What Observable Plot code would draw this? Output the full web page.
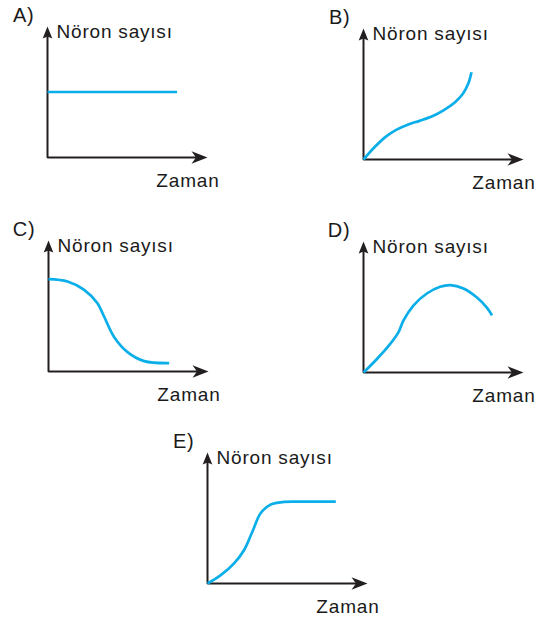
<!DOCTYPE html>
<html>
<head>
<meta charset="utf-8">
<script src="https://cdn.jsdelivr.net/npm/d3@7"></script>
<script src="https://cdn.jsdelivr.net/npm/@observablehq/plot@0.6"></script>
<style>
  html, body { margin: 0; padding: 0; background: #fff; overflow: hidden; }
  #chart { position: relative; width: 537px; height: 620px; background: #fff; }
  .panel { position: absolute; }
  .panel svg text { letter-spacing: 0.8px; }
</style>
</head>
<body>
<div id="chart"></div>
<script>
// ---- Data (time in arbitrary units 0..10, neuron count 0..10) ----
const panelLabels = ["A)", "B)", "C)", "D)", "E)"];
const yAxisLabel = "Nöron sayısı";
const xAxisLabel = "Zaman";

const timeA  = [0, 8.1];
const countA = [5.0, 5.0];

const timeB  = [0, 0.7, 1.4, 2.1, 2.8, 3.5, 4.3, 5.0, 5.7, 6.2, 6.55, 6.75];
const countB = [0, 0.95, 1.75, 2.3, 2.68, 2.95, 3.3, 3.75, 4.35, 5.0, 5.8, 6.66];

const timeC  = [0, 1.19, 2.23, 3.06, 3.48, 4.1, 4.94, 5.98, 7.54];
const countC = [7.05, 6.87, 6.23, 5.21, 4.18, 2.64, 1.48, 0.79, 0.64];

const timeD  = [0, 0.84, 1.67, 2.19, 2.5, 3.13, 3.96, 4.79, 5.42, 6.25, 7.09, 7.71, 8.03];
const countD = [0, 1.03, 2.18, 3.08, 3.98, 5.13, 6.03, 6.54, 6.67, 6.41, 5.72, 4.95, 4.36];

const timeE  = [0, 0.83, 1.66, 2.29, 2.81, 3.33, 3.96, 4.79, 5.83, 8.02];
const countE = [0, 0.64, 1.54, 2.56, 3.97, 5.38, 6.03, 6.23, 6.25, 6.25];

const series = [[timeA, countA], [timeB, countB], [timeC, countC], [timeD, countD], [timeE, countE]];

// ---- Layout ----
const origins = [[47, 157], [363, 159], [48, 371], [363, 372], [207, 583]];
const plotW = 160, plotH = 131;
const mL = 40, mR = 14, mT = 22, mB = 36;

const AXIS = "#231f20";
const CURVE = "#0aaee9";
const FONT = "'Liberation Sans', Arial, Helvetica, sans-serif";

const arrowUp = {
  draw(ctx) {
    ctx.moveTo(0, 0);
    ctx.lineTo(4.8, 12);
    ctx.lineTo(0, 10);
    ctx.lineTo(-4.8, 12);
    ctx.closePath();
  }
};
const arrowRight = {
  draw(ctx) {
    ctx.moveTo(0, 0);
    ctx.lineTo(-16, -6.2);
    ctx.lineTo(-11.5, 0);
    ctx.lineTo(-16, 6.2);
    ctx.closePath();
  }
};

const chart = document.getElementById("chart");

series.forEach(([t, c], i) => {
  const data = t.map((x, k) => ({x, y: c[k]}));
  const [ox, oy] = origins[i];
  const plot = Plot.plot({
    width: mL + plotW + mR,
    height: mT + plotH + mB,
    marginLeft: mL, marginRight: mR, marginTop: mT, marginBottom: mB,
    x: {domain: [0, 10], axis: null},
    y: {domain: [0, 10], axis: null},
    style: {fontFamily: FONT, fontSize: "19px", background: "transparent", overflow: "visible"},
    marks: [
      // axes (L shape)
      Plot.line([{x: 0, y: 9.4}, {x: 0, y: 0}, {x: 9.4, y: 0}], {
        x: "x", y: "y", stroke: AXIS, strokeWidth: 2, strokeLinejoin: "miter", strokeLinecap: "butt"
      }),
      Plot.dot([{x: 0, y: 10}], {x: "x", y: "y", symbol: arrowUp, fill: AXIS, stroke: "none", r: 5}),
      Plot.dot([{x: 10, y: 0}], {x: "x", y: "y", symbol: arrowRight, fill: AXIS, stroke: "none", r: 5}),
      // curve
      Plot.line(data, {x: "x", y: "y", stroke: CURVE, strokeWidth: 2.7, curve: "catmull-rom", strokeLinecap: "butt"}),
      // labels
      Plot.text([panelLabels[i]], {x: 0, y: 10, text: d => d, textAnchor: "end", lineAnchor: "bottom",
        dx: -13, dy: -5, fill: "#1a1a1a", fontSize: 20}),
      Plot.text([yAxisLabel], {x: 0, y: 10, text: d => d, textAnchor: "start", lineAnchor: "bottom",
        dx: 9, dy: 11, fill: "#1a1a1a", fontSize: 19}),
      Plot.text([xAxisLabel], {x: 10, y: 0, text: d => d, textAnchor: "end", lineAnchor: "bottom",
        dx: 12, dy: 29, fill: "#1a1a1a", fontSize: 19})
    ]
  });
  const wrap = document.createElement("div");
  wrap.className = "panel";
  wrap.style.left = (ox - mL) + "px";
  wrap.style.top = (oy - plotH - mT) + "px";
  wrap.appendChild(plot);
  chart.appendChild(wrap);
});
</script>
</body>
</html>
